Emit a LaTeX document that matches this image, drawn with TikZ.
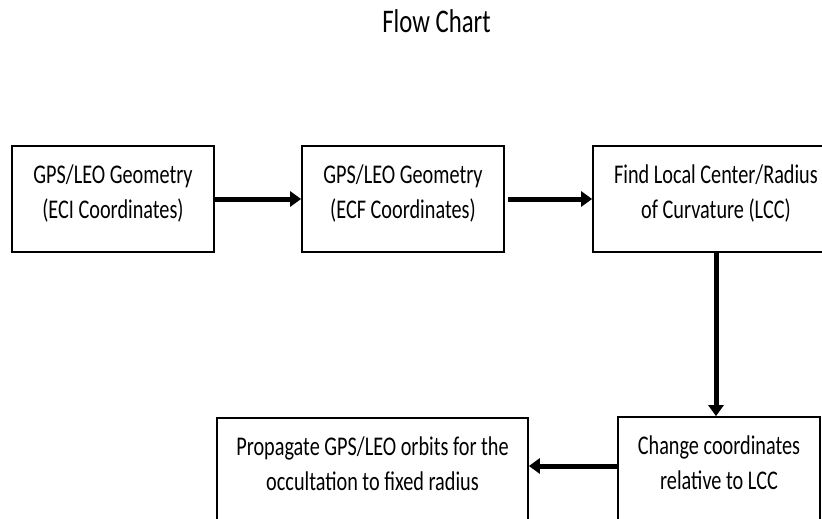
\documentclass[tikz,border=0pt]{standalone}
\usepackage{fontspec}
\setmainfont[FakeStretch=0.75]{Carlito}
\usetikzlibrary{arrows.meta}

\begin{document}
\begin{tikzpicture}[x=1pt, y=-1pt, >={Triangle[length=11pt,width=15pt]},
  box/.style={draw, line width=1.7pt, minimum height=106pt, inner sep=0pt, align=center,
    font=\fontsize{27}{35}\selectfont, text height=55pt, text depth=17pt},
  flow/.style={->, line width=5pt}]
\useasboundingbox (0,0) rectangle (822,519);
\node[font=\fontsize{33}{40}\selectfont, anchor=base] (title) at (436.5,33) {Flow Chart};

\node[box, minimum width=202pt] (eci) at (113,199) {GPS/LEO Geometry\\(ECI Coordinates)};
\node[box, minimum width=202pt] (ecf) at (403,199) {GPS/LEO Geometry\\(ECF Coordinates)};
\node[box, minimum width=246pt] (lcc) at (716,199) {Find Local Center/Radius\\of Curvature (LCC)};
\node[box, minimum width=202pt] (chg) at (719,470) {Change coordinates\\relative to LCC};
\node[box, minimum width=311pt] (prop) at (372.5,471) {Propagate GPS/LEO orbits for the\\occultation to fixed radius};

\draw[flow](eci)--(ecf);
\draw[flow]([xshift=3pt]ecf.east)--(lcc);
\draw[flow](lcc.south)--(lcc.south |- chg.north);
\draw[flow]([yshift=4pt]chg.west)--([yshift=4pt]chg.west -| prop.east);
\end{tikzpicture}
\end{document}
